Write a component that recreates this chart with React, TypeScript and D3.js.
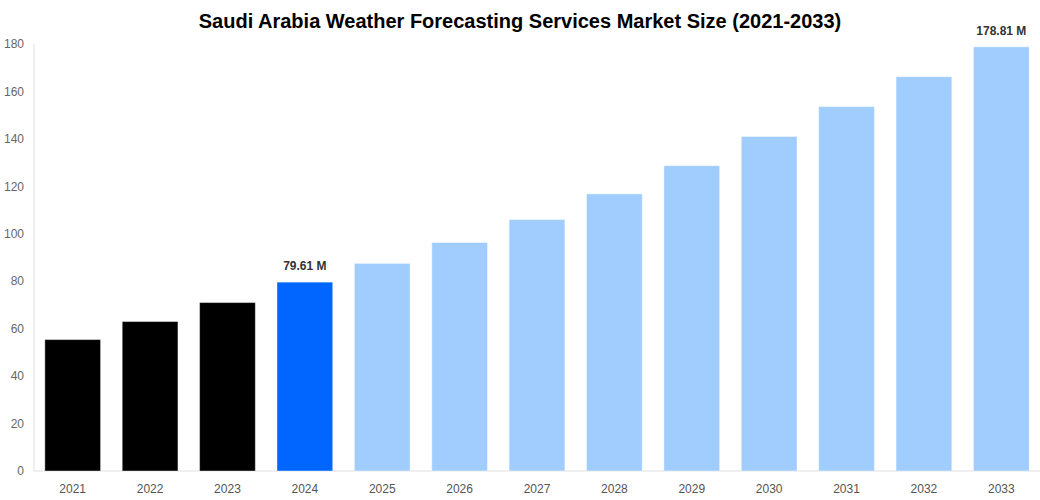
import React, { useEffect, useRef } from 'react';
import * as d3 from 'd3';

const years = ['2021', '2022', '2023', '2024', '2025', '2026', '2027', '2028', '2029', '2030', '2031', '2032', '2033'];
const values = [55.4, 63.0, 71.0, 79.61, 87.5, 96.3, 106.0, 116.8, 128.7, 141.0, 153.6, 166.2, 178.81];
const colors = ['#000000', '#000000', '#000000', '#0066ff', '#a0cdfd', '#a0cdfd', '#a0cdfd', '#a0cdfd', '#a0cdfd', '#a0cdfd', '#a0cdfd', '#a0cdfd', '#a0cdfd'];
const labelled = ['2024', '2033'];
const yTicks = [0, 20, 40, 60, 80, 100, 120, 140, 160, 180];

const title = 'Saudi Arabia Weather Forecasting Services Market Size (2021-2033)';

export default function App() {
  const svgRef = useRef<SVGSVGElement>(null);
  const width = 1040;
  const height = 500;

  useEffect(() => {
    if (!svgRef.current) return;
    const svg = d3.select(svgRef.current);
    svg.selectAll('*').remove();

    const margin = { top: 44, right: 0, bottom: 29, left: 34 };
    const font = 'Arial, "Liberation Sans", sans-serif';

    const x = d3
      .scaleBand<string>()
      .domain(years)
      .range([margin.left, width - margin.right])
      .paddingInner(0.28)
      .paddingOuter(0.14);

    const y = d3
      .scaleLinear()
      .domain([0, 180])
      .range([height - margin.bottom, margin.top]);

    // Title
    svg
      .append('text')
      .attr('x', width / 2)
      .attr('y', 28)
      .attr('text-anchor', 'middle')
      .style('font-family', font)
      .style('font-size', '20px')
      .style('font-weight', '700')
      .style('fill', '#000')
      .text(title);

    // Axes lines
    svg
      .append('line')
      .attr('x1', margin.left)
      .attr('x2', margin.left)
      .attr('y1', y(180))
      .attr('y2', y(0))
      .attr('stroke', '#e0e0e0');
    svg
      .append('line')
      .attr('x1', margin.left)
      .attr('x2', width)
      .attr('y1', y(0))
      .attr('y2', y(0))
      .attr('stroke', '#e0e0e0');

    // Y tick labels
    svg
      .append('g')
      .selectAll('text')
      .data(yTicks)
      .enter()
      .append('text')
      .attr('x', 24)
      .attr('y', (d) => y(d))
      .attr('dy', '0.35em')
      .attr('text-anchor', 'end')
      .style('font-family', font)
      .style('font-size', '12px')
      .style('fill', '#666')
      .text((d) => d);

    // Bars
    const rows = years.map((yr, i) => ({ year: yr, value: values[i], color: colors[i] }));
    svg
      .append('g')
      .selectAll('rect')
      .data(rows)
      .enter()
      .append('rect')
      .attr('x', (d) => x(d.year)!)
      .attr('y', (d) => y(d.value))
      .attr('width', x.bandwidth())
      .attr('height', (d) => y(0) - y(d.value))
      .attr('fill', (d) => d.color)
      .attr('stroke', '#fff')
      .attr('stroke-opacity', 0.4)
      .attr('stroke-width', 1);

    // X labels
    svg
      .append('g')
      .selectAll('text')
      .data(years)
      .enter()
      .append('text')
      .attr('x', (d) => x(d)! + x.bandwidth() / 2)
      .attr('y', y(0) + 22)
      .attr('text-anchor', 'middle')
      .style('font-family', font)
      .style('font-size', '12px')
      .style('fill', '#555')
      .text((d) => d);

    // Value labels
    svg
      .append('g')
      .selectAll('text')
      .data(rows.filter((d) => labelled.includes(d.year)))
      .enter()
      .append('text')
      .attr('x', (d) => x(d.year)! + x.bandwidth() / 2)
      .attr('y', (d) => y(d.value) - 12)
      .attr('text-anchor', 'middle')
      .style('font-family', font)
      .style('font-size', '12px')
      .style('font-weight', '700')
      .style('fill', '#333')
      .text((d) => `${d.value} M`);
  }, []);

  return (
    <div style={{ position: 'absolute', left: 0, top: 0, background: '#fff' }}>
      <svg ref={svgRef} width={width} height={height}></svg>
    </div>
  );
}
